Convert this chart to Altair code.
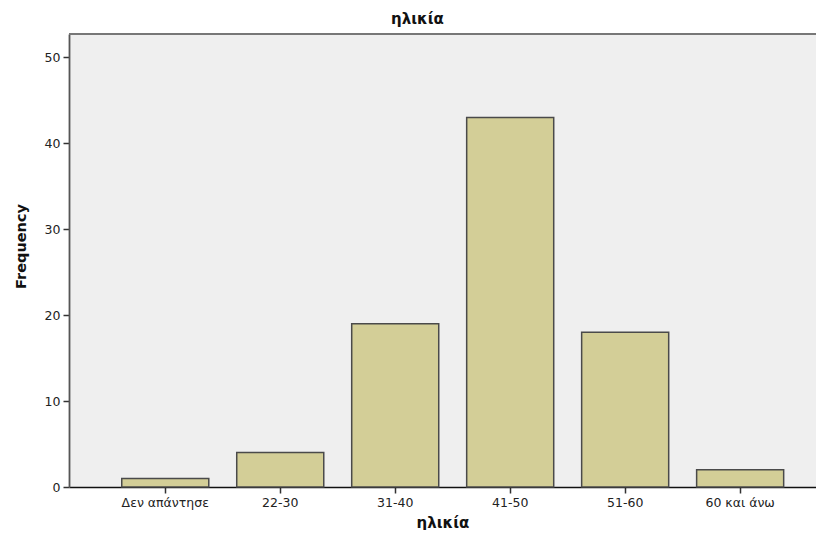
import altair as alt
import pandas as pd

categories = ["Δεν απάντησε", "22-30", "31-40", "41-50", "51-60", "60 και άνω"]
counts = [1, 4, 19, 43, 18, 2]
y_ticks = [0, 10, 20, 30, 40, 50]

df = pd.DataFrame({"age": categories, "freq": counts})

W = 747
H = 453
FONT = "DejaVu Sans"

bars = alt.Chart(df).mark_bar(
    fill="#d3ce97", stroke="#4a4a4a", strokeWidth=1.5
).encode(
    x=alt.X("age:N", sort=categories,
            scale=alt.Scale(paddingInner=0.243, paddingOuter=0.37, align=0.62),
            axis=alt.Axis(title="ηλικία", labelAngle=0, labelFontSize=12.5,
                          labelColor="#222", titleFontSize=15, titleFontWeight="bold",
                          titleColor="#111", domainColor="#111", domainWidth=1.5,
                          tickColor="#333", tickSize=6, tickWidth=1.5,
                          labelPadding=3, titleBaseline="alphabetic", titleY=40,
                          labelFont=FONT, titleFont=FONT)),
    y=alt.Y("freq:Q", scale=alt.Scale(domain=[0, 52.7], nice=False),
            axis=alt.Axis(title="Frequency", values=y_ticks, grid=False,
                          labelFontSize=12.5, labelColor="#222",
                          titleFontSize=14.5, titleFontWeight="bold", titleColor="#111",
                          domainColor="#555", domainWidth=1.8, tickColor="#333",
                          tickSize=6, tickWidth=1.5, labelPadding=3,
                          titleX=-41, titleY=212,
                          labelFont=FONT, titleFont=FONT)),
)

top = alt.Chart(df).mark_rule(color="#777", strokeWidth=2).encode(
    x=alt.value(0), x2=alt.value(W), y=alt.value(0)
)

chart = alt.layer(bars, top).properties(
    width=W, height=H,
    title=alt.TitleParams("ηλικία", fontSize=15, font=FONT, fontWeight="bold",
                          color="#111", anchor="middle", dx=-25, offset=6),
    autosize=alt.AutoSizeParams(type="none"),
    padding={"left": 61, "right": 0, "top": 26, "bottom": 43},
    background="white",
).configure_view(fill="#efefef", stroke=None)

chart.save("out.html", embed_options={"renderer": "svg", "actions": False})
